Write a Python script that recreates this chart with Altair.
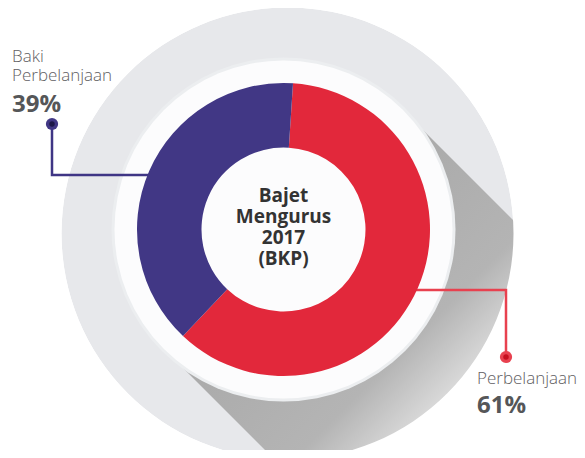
import math
import altair as alt
import pandas as pd

# ---- data ----
categories = ["Perbelanjaan", "Baki Perbelanjaan"]
values = [61, 39]
colors = ["#e2283b", "#413785"]

label_lines_left = ["Baki", "Perbelanjaan", "39%"]
label_lines_right = ["Perbelanjaan", "61%"]
center_lines = ["Bajet", "Mengurus", "2017", "(BKP)"]

# leader line paths (pixel space of the plot)
purple_x = [44, 44, 150]
purple_y = [116, 167, 167]
red_x = [405, 498, 498]
red_y = [282, 282, 349]

W, H = 569, 442
CX, CY = 275.5, 221.5          # donut centre
GX, GY, GR = 279.5, 225.5, 226  # grey disc
R_RING = 172
R_OUT, R_IN = 146.5, 82
TAU = 2 * math.pi
THETA0 = 0.065

one = pd.DataFrame({"k": [0]})
xs = alt.Scale(domain=[0, W], range=[0, W])
ys = alt.Scale(domain=[0, H], range=[0, H])


def disc(cx, cy, r, color, r2=0):
    return alt.Chart(one).mark_arc(theta=0, theta2=TAU, radius=r, radius2=r2,
                                   color=color).encode(
        x=alt.value(cx), y=alt.value(cy))


grey = disc(GX, GY, GR, "#e7e8eb")

shadow = alt.Chart(one).mark_rule(
    strokeWidth=338, strokeCap="butt",
    stroke=alt.LinearGradient(
        gradient="linear", x1=0, y1=0, x2=1, y2=1,
        stops=[alt.GradientStop(color="#a8a8a8", offset=0),
               alt.GradientStop(color="#b4b4b4", offset=0.5),
               alt.GradientStop(color="#d8d8d8", offset=0.68),
               alt.GradientStop(color="#e4e4e4", offset=1)])
).encode(x=alt.value(CX), y=alt.value(CY),
         x2=alt.value(CX + 240), y2=alt.value(CY + 240))

mask = disc(GX, GY, 700, "white", r2=GR)
ring_edge = disc(CX, CY, R_RING, "#eceef0")
ring = disc(CX, CY, R_RING - 3, "#fcfcfd")

lp = pd.DataFrame({"x": purple_x, "y": purple_y, "o": [0, 1, 2]})
lr = pd.DataFrame({"x": red_x, "y": red_y, "o": [0, 1, 2]})
line_p = alt.Chart(lp).mark_line(color="#3f3585", strokeWidth=2.5).encode(
    x=alt.X("x:Q", scale=xs, axis=None), y=alt.Y("y:Q", scale=ys, axis=None),
    order="o:O")
line_r = alt.Chart(lr).mark_line(color="#e8414f", strokeWidth=2.5).encode(
    x=alt.X("x:Q", scale=xs, axis=None), y=alt.Y("y:Q", scale=ys, axis=None),
    order="o:O")

dots = pd.DataFrame({"x": [purple_x[0], red_x[-1]], "y": [purple_y[0], red_y[-1]],
                     "c1": ["#413785", "#e8414f"], "c2": ["#1d1848", "#c50f1f"]})
dot_out = alt.Chart(dots).mark_circle(size=150, opacity=1).encode(
    x=alt.X("x:Q", scale=xs, axis=None), y=alt.Y("y:Q", scale=ys, axis=None),
    color=alt.Color("c1:N", scale=None))
dot_in = alt.Chart(dots).mark_circle(size=30, opacity=1).encode(
    x=alt.X("x:Q", scale=xs, axis=None), y=alt.Y("y:Q", scale=ys, axis=None),
    color=alt.Color("c2:N", scale=None))

df = pd.DataFrame({"cat": categories, "val": values, "ord": [0, 1]})
donut = alt.Chart(df).mark_arc(radius=R_OUT, radius2=R_IN).encode(
    theta=alt.Theta("val:Q", stack=True,
                    scale=alt.Scale(range=[THETA0, THETA0 + TAU])),
    order=alt.Order("ord:O"),
    color=alt.Color("cat:N", scale=alt.Scale(domain=categories, range=colors),
                    legend=None),
    x=alt.value(CX), y=alt.value(CY))

tl = pd.DataFrame({"t": label_lines_left, "x": [4, 4, 4], "y": [54, 73, 104],
                   "s": ["l", "l", "b"]})
tr = pd.DataFrame({"t": label_lines_right, "x": [469, 469], "y": [376, 405],
                   "s": ["l", "b"]})
tdf = pd.concat([tl, tr])


def txt(d, size, weight, color, align="left"):
    return alt.Chart(d).mark_text(font="Open Sans", fontSize=size, fontWeight=weight,
                                  color=color, align=align, baseline="alphabetic").encode(
        x=alt.X("x:Q", scale=xs, axis=None), y=alt.Y("y:Q", scale=ys, axis=None),
        text="t:N")


light = txt(tdf[tdf.s == "l"], 17, 300, "#5f6062")
bold = txt(tdf[tdf.s == "b"], 24, "bold", "#555658")

cdf = pd.DataFrame({"t": center_lines, "x": [CX] * 4, "y": [194, 215, 236, 257]})
center = txt(cdf, 19, "bold", "#333333", align="center")

chart = alt.layer(grey, shadow, mask, ring_edge, ring, line_p, line_r, donut,
                  dot_out, dot_in, light, bold, center).properties(
    width=W, height=H, padding=0, autosize="none"
).configure_view(stroke=None)

chart.save("out.html", embed_options={"renderer": "svg", "actions": False})
